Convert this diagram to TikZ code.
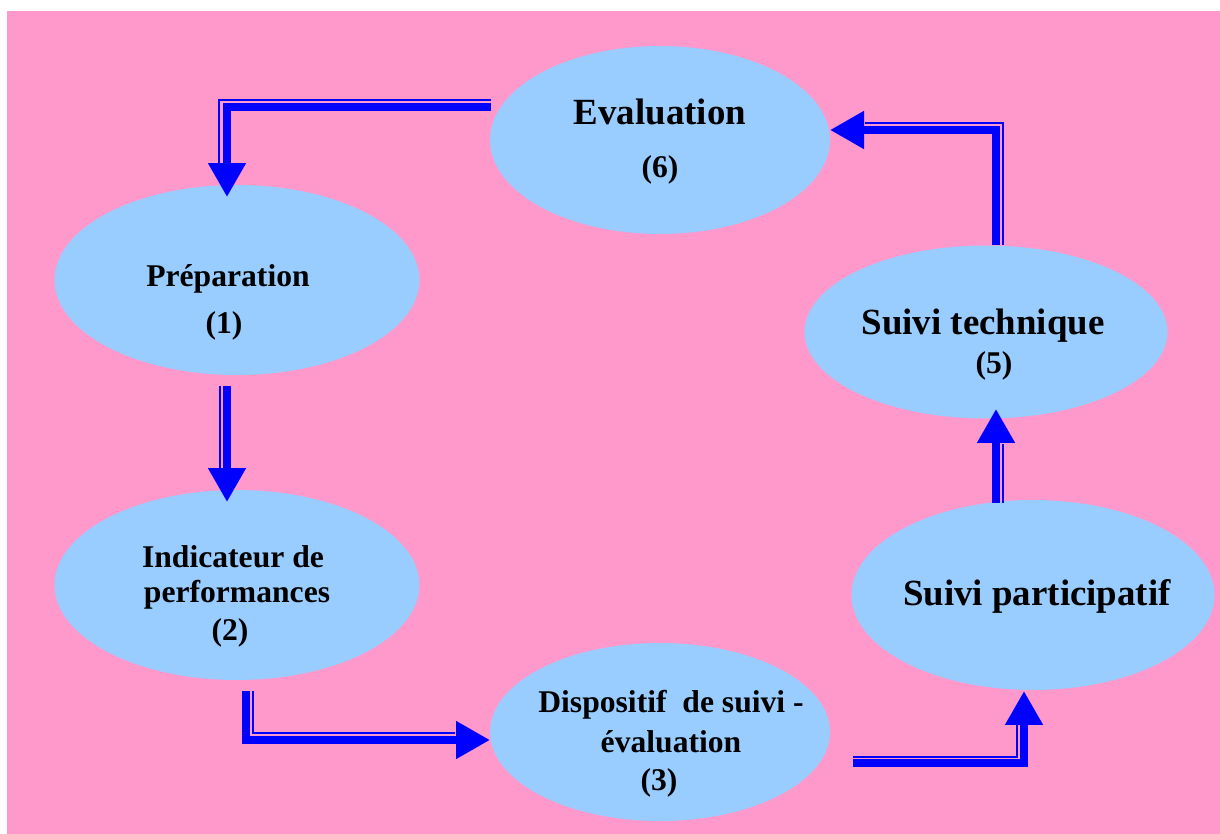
\documentclass[tikz,border=0pt]{standalone}
\usepackage{fontspec}
\setmainfont{Liberation Serif}
\usepackage{tikz}
\usetikzlibrary{shapes.geometric}
\usetikzlibrary{arrows.meta}

\definecolor{bgpink}{HTML}{FF99CC}
\definecolor{cellblue}{HTML}{99CCFF}
\definecolor{flowblue}{HTML}{0000FF}

\begin{document}
\begin{tikzpicture}[x=0.02cm, y=-0.02cm,
    stage/.style={ellipse, fill=cellblue, inner sep=0pt},
    bigtxt/.style={anchor=base, font=\fontsize{21}{25}\selectfont\bfseries},
    smalltxt/.style={anchor=base, font=\fontsize{18}{22}\selectfont\bfseries},
    bar/.style={flowblue, line width=0.16cm, -{Triangle[length=0.68cm, width=0.72cm]}},
    rail/.style={flowblue, line width=0.04cm}]
    \useasboundingbox (0,0) rectangle (1220,834);

    % background
    \fill[bgpink] (7,11) rectangle (1220,834);

    % stages
    \node[stage, minimum width=6.8cm, minimum height=3.76cm] (eval) at (660,140) {};
    \node[stage, minimum width=7.3cm, minimum height=3.8cm] (prep) at (237,280) {};
    \node[stage, minimum width=7.3cm, minimum height=3.8cm] (indic) at (237,585) {};
    \node[stage, minimum width=6.8cm, minimum height=3.56cm] (disp) at (660,732) {};
    \node[stage, minimum width=7.26cm, minimum height=3.8cm] (part) at (1033,595) {};
    \node[stage, minimum width=7.26cm, minimum height=3.46cm] (tech) at (986,332) {};

    % labels
    \node[bigtxt] (evalA) at (660,125) {Evaluation};
    \node[smalltxt] (evalB) at (660,178) {(6)};
    \node[smalltxt] (prepA) at (228,287) {Préparation};
    \node[smalltxt] (prepB) at (224,334) {(1)};
    \node[smalltxt] (indicA) at (233,567) {Indicateur de};
    \node[smalltxt] (indicB) at (237,602) {performances};
    \node[smalltxt] (indicC) at (230,640) {(2)};
    \node[smalltxt] (dispA) at (671,712) {Dispositif\ \ de suivi -};
    \node[smalltxt] (dispB) at (671,752) {évaluation};
    \node[smalltxt] (dispC) at (659,790) {(3)};
    \node[bigtxt] (partA) at (1037,605) {Suivi participatif};
    \node[bigtxt] (techA) at (983,335) {Suivi technique};
    \node[smalltxt] (techB) at (994,374) {(5)};

    % arrow ends
    \coordinate (a1s) at (491,107);
    \coordinate (a1e) at (227,197);
    \coordinate (a2s) at (227,386);
    \coordinate (a2e) at (227,502);
    \coordinate (a3s) at (246,691);
    \coordinate (a3e) at (490,740);
    \coordinate (a4s) at (853,763);
    \coordinate (a4e) at (1024,691);
    \coordinate (a5s) at (996,503);
    \coordinate (a5e) at (996,409);
    \coordinate (a6s) at (996,245);
    \coordinate (a6e) at (830,130);

    % arrows (thick bar + thin rail)
    \draw[bar] (a1s) -| (a1e);
    \draw[rail, transform canvas={shift={(-8,-7)}}, shorten <=-0.16cm, shorten >=0.5cm] (a1s) -| (a1e);
    \draw[bar] (a2s) -- (a2e);
    \draw[rail, transform canvas={shift={(-7,0)}}, shorten >=0.68cm] (a2s) -- (a2e);
    \draw[bar] (a3s) |- (a3e);
    \draw[rail, transform canvas={shift={(7,-7)}}, shorten <=0.14cm, shorten >=0.84cm] (a3s) |- (a3e);
    \draw[bar] (a4s) -| (a4e);
    \draw[rail, transform canvas={shift={(-7,-6)}}, shorten <=0.14cm, shorten >=0.8cm] (a4s) -| (a4e);
    \draw[bar] (a5s) -- (a5e);
    \draw[rail, transform canvas={shift={(7,0)}}, shorten >=0.7cm] (a5s) -- (a5e);
    \draw[bar] (a6s) |- (a6e);
    \draw[rail, transform canvas={shift={(7,-7)}}, shorten <=-0.14cm, shorten >=0.56cm] (a6s) |- (a6e);
\end{tikzpicture}
\end{document}
